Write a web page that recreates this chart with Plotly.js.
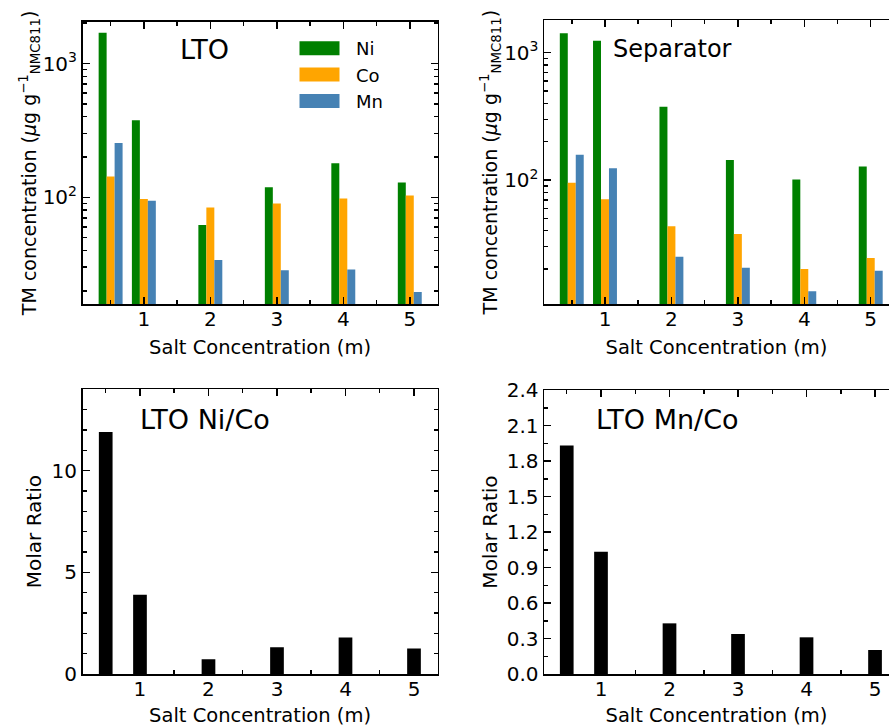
<!DOCTYPE html>
<html><head><meta charset="utf-8">
<script src="https://cdn.plot.ly/plotly-3.0.1.min.js"></script>
<style>html,body{margin:0;padding:0;background:#fff}#chart{width:889px;height:727px}</style>
</head><body><div id="chart"></div>
<script>
// Salt concentration (m)
const conc = [0.5, 1, 2, 3, 4, 5];
// LTO transition-metal concentrations (µg per g NMC811)
const ltoNi = [1700, 376, 62, 119, 180, 129];
const ltoCo = [143, 97, 84, 90, 98, 103];
const ltoMn = [254, 94, 34, 28.5, 28.8, 19.6];
// Separator transition-metal concentrations
const sepNi = [1420, 1240, 377, 144, 101, 128];
const sepCo = [95, 70.5, 43.3, 37.7, 20, 24.4];
const sepMn = [158, 123.5, 25, 20.5, 13.4, 19.4];
// LTO molar ratios
const ltoNiCo = [11.9, 3.9, 0.72, 1.31, 1.80, 1.25];
const ltoMnCo = [1.93, 1.034, 0.428, 0.338, 0.31, 0.203];

const seriesNames = ['Ni', 'Co', 'Mn'];
const panelTitles = ['LTO', 'Separator', 'LTO Ni/Co', 'LTO Mn/Co'];
const logTickVals = [100, 1000];
const logTickText = ['10<sup>2</sup>', '10<sup>3</sup>'];
const logMinorVals = [20,30,40,50,60,70,80,90,200,300,400,500,600,700,800,900,2000];

const FONT = 'DejaVu Sans';
const colors = ['#008000', '#FFA500', '#4682B4'];
const offsets = [-0.18, -0.06, 0.06];
const gw = 0.12;

const traces = [];
[ltoNi, ltoCo, ltoMn].forEach((v, i) => traces.push({
  type: 'bar', x: conc, y: v, name: seriesNames[i], xaxis: 'x', yaxis: 'y',
  width: gw, offset: offsets[i], marker: {color: colors[i], line: {width: 0}}, showlegend: true
}));
[sepNi, sepCo, sepMn].forEach((v, i) => traces.push({
  type: 'bar', x: conc, y: v, name: seriesNames[i], xaxis: 'x2', yaxis: 'y2',
  width: gw, offset: offsets[i], marker: {color: colors[i], line: {width: 0}}, showlegend: false
}));
traces.push({type: 'bar', x: conc, y: ltoNiCo, xaxis: 'x3', yaxis: 'y3', width: 0.2,
  marker: {color: 'black', line: {width: 0}}, showlegend: false});
traces.push({type: 'bar', x: conc, y: ltoMnCo, xaxis: 'x4', yaxis: 'y4', width: 0.2,
  marker: {color: 'black', line: {width: 0}}, showlegend: false});

const W = 889, H = 727;
const px = v => v / W;
const py = v => (H - v) / H;

function base() {
  return {
    showline: true, linecolor: 'black', linewidth: 1.5,
    ticks: 'inside', ticklen: 7, tickwidth: 1.5, tickcolor: 'black',
    showgrid: false, zeroline: false,
    tickfont: {family: FONT, size: 20, color: 'black'},
    minor: {ticks: 'inside', ticklen: 4, tickwidth: 1.5, tickcolor: 'black', showgrid: false}
  };
}
function xaxis(domain, range, anchor, standoff) {
  const a = base();
  Object.assign(a, {domain, range, anchor, tickmode: 'linear', tick0: 0, dtick: 1, mirror: 'ticks',
    ticklabelstandoff: -4,
    title: {text: 'Salt Concentration (m)', font: {family: FONT, size: 19.5, color: 'black'}, standoff}});
  a.minor.tick0 = 0; a.minor.dtick = 0.5;
  return a;
}
const yTitleTM = 'TM concentration (<i>μ</i>g g<sup>−1</sup><sub>NMC811</sub>)';
function ylog(domain, range, anchor, mirror, standoff) {
  const a = base();
  Object.assign(a, {domain, range, anchor, type: 'log', tickmode: 'array',
    tickvals: logTickVals, ticktext: logTickText, mirror,
    title: {text: yTitleTM, font: {family: FONT, size: 19, color: 'black'}, standoff}});
  a.minor.tickmode = 'array'; a.minor.tickvals = logMinorVals;
  return a;
}
function ylin(domain, range, anchor, mirror, dtick, mdtick, fmt, standoff) {
  const a = base();
  Object.assign(a, {domain, range, anchor, tickmode: 'linear', tick0: 0, dtick, mirror, tickformat: fmt,
    title: {text: 'Molar Ratio', font: {family: FONT, size: 20, color: 'black'}, standoff}});
  a.minor.tick0 = 0; a.minor.dtick = mdtick;
  return a;
}

const xL = [px(82.5), px(437.7)];
const xR = [px(544), 1];
const layout = {
  width: W, height: H, margin: {l: 0, r: 0, t: 0, b: 0},
  paper_bgcolor: 'white', plot_bgcolor: 'white',
  font: {family: FONT, color: 'black'},
  barmode: 'overlay',
  xaxis: xaxis(xL, [0.077, 5.42], 'y', 10),
  yaxis: ylog([py(304.3), py(21.5)], [1.2, 3.314], 'x', 'ticks', 0),
  xaxis2: xaxis(xR, [0.082, 5.275], 'y2', 10),
  yaxis2: ylog([py(304.3), py(20)], [1.024, 3.257], 'x2', false, 0),
  xaxis3: xaxis(xL, [0.161, 5.346], 'y3', 9),
  yaxis3: ylin([py(674), py(389.3)], [0, 14], 'x3', 'ticks', 5, 1, '', 4),
  xaxis4: xaxis(xR, [0.168, 5.204], 'y4', 9),
  yaxis4: ylin([py(674), py(390)], [0, 2.4], 'x4', false, 0.3, 0.15, '.1f', 3),
  legend: {x: px(283), y: py(30), xanchor: 'left', yanchor: 'top', bgcolor: 'rgba(0,0,0,0)',
    font: {family: FONT, size: 18, color: 'black'}, itemwidth: 63},
  annotations: [
    {text: panelTitles[0], x: px(178), y: py(49), s: 27},
    {text: panelTitles[1], x: px(611), y: py(49), s: 24},
    {text: panelTitles[2], x: px(138), y: py(419), s: 27},
    {text: panelTitles[3], x: px(594), y: py(419), s: 27}
  ].map(a => ({text: a.text, x: a.x, y: a.y, xref: 'paper', yref: 'paper', xanchor: 'left', yanchor: 'middle',
    showarrow: false, font: {family: FONT, size: a.s, color: 'black'}}))
};

function fixLegend() {
  document.querySelectorAll('.legendpoints path').forEach(p => p.setAttribute('d', 'M20,7H-20V-7H20Z'));
}
Plotly.newPlot('chart', traces, layout, {displayModeBar: false, staticPlot: true}).then(() => {
  fixLegend();
  setTimeout(fixLegend, 0);
  setTimeout(fixLegend, 200);
});
</script></body></html>
